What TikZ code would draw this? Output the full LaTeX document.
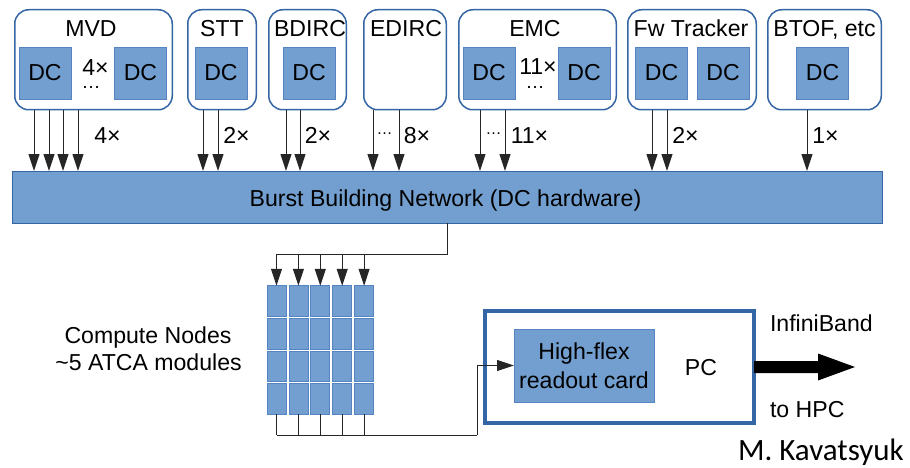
\documentclass[tikz,border=0pt]{standalone}
\usepackage{fontspec}
\setmainfont{Liberation Sans}
\newfontfamily\carl{Carlito}
\usetikzlibrary{arrows.meta,calc}
\definecolor{fillb}{HTML}{729FCF}
\definecolor{edgeb}{HTML}{3465A4}
\definecolor{dcedge}{HTML}{5584C0}
\begin{document}
\begin{tikzpicture}[x=1pt,y=-1pt,
  every node/.style={font=\fontsize{23.1}{27}\selectfont, inner sep=0pt, outer sep=0pt},
  grp/.style={draw=edgeb, line width=1.5pt, rounded corners=14pt, fill=white, minimum height=100pt},
  dcbox/.style={draw=dcedge, line width=0.8pt, fill=fillb, minimum width=52pt, minimum height=52pt},
  cell/.style={draw=dcedge, line width=0.8pt, fill=fillb, minimum width=19pt, minimum height=30.5pt},
  conn/.style={line width=1pt, draw=black!85},
  arr/.style={conn, -{Triangle[length=17pt,width=11pt]}},
  lbl/.style={anchor=base},
  dotsA/.style={anchor=base, font=\fontsize{19}{20}\selectfont},
  dotsB/.style={anchor=base, font=\fontsize{16}{18}\selectfont}
]
\useasboundingbox (0,0) rectangle (910,468);

% detector groups
\node[grp, minimum width=157.5pt] (mvd) at (93.5,59.75) {};
\node[grp, minimum width=68.5pt] (stt) at (222,59.75) {};
\node[grp, minimum width=77.5pt] (bdirc) at (307.5,59.75) {};
\node[grp, minimum width=82.5pt] (edirc) at (405,59.75) {};
\node[grp, minimum width=157.5pt] (emc) at (537.5,59.75) {};
\node[grp, minimum width=128.5pt] (fw) at (692,59.75) {};
\node[grp, minimum width=113.5pt] (btof) at (824.5,59.75) {};

\node[lbl] (tmvd) at (91,37) {MVD};
\node[lbl] (tstt) at (222,37) {STT};
\node[lbl] (tbdirc) at (310,37) {BDIRC};
\node[lbl] (tedirc) at (406,37) {EDIRC};
\node[lbl] (temc) at (535,37) {EMC};
\node[lbl] (tfw) at (691,37) {Fw Tracker};
\node[lbl] (tbtof) at (824.5,37) {BTOF, etc};

% DC boxes
\node[dcbox] (dc1) at (45,73) {DC};
\node[dcbox] (dc2) at (140.5,73) {DC};
\node[dcbox] (dc3) at (221,73) {DC};
\node[dcbox] (dc4) at (309,73) {DC};
\node[dcbox] (dc5) at (489,73) {DC};
\node[dcbox] (dc6) at (584,73) {DC};
\node[dcbox] (dc7) at (661.5,73) {DC};
\node[dcbox] (dc8) at (723,73) {DC};
\node[dcbox] (dc9) at (822.5,73) {DC};

\node[lbl] (m4) at (95.5,76) {4×};
\node[dotsA] (md) at (91,89) {…};
\node[lbl] (e11) at (538,75) {11×};
\node[dotsA] (ed) at (535,89) {…};

% bus
\node[draw=edgeb, line width=0.8pt, fill=fillb, minimum width=870pt, minimum height=52pt] (bus) at (447,197) {};
\node[lbl] (tbus) at (445.5,206) {Burst Building Network (DC hardware)};

% arrows into bus
\foreach \x in {34,49,63,78} \draw[arr] (mvd.south -| \x,0) -- (bus.north -| \x,0);
\foreach \x in {203,218} \draw[arr] (stt.south -| \x,0) -- (bus.north -| \x,0);
\foreach \x in {286,300} \draw[arr] (bdirc.south -| \x,0) -- (bus.north -| \x,0);
\foreach \x in {373,399} \draw[arr] (edirc.south -| \x,0) -- (bus.north -| \x,0);
\foreach \x in {480,505} \draw[arr] (emc.south -| \x,0) -- (bus.north -| \x,0);
\foreach \x in {652,667} \draw[arr] (fw.south -| \x,0) -- (bus.north -| \x,0);
\draw[arr] (btof.south -| 807,0) -- (bus.north -| 807,0);

\node[lbl] (a1) at (107.5,143) {4×};
\node[lbl] (a2) at (236.5,143) {2×};
\node[lbl] (a3) at (318,143) {2×};
\node[dotsB] (a4d) at (384.5,135) {…};
\node[lbl] (a4) at (417,143) {8×};
\node[dotsB] (a5d) at (493.5,135) {…};
\node[lbl] (a5) at (529.5,143) {11×};
\node[lbl] (a6) at (685.5,143) {2×};
\node[lbl] (a7) at (825.5,143) {1×};

% compute nodes
\foreach \c [count=\j] in {276.5,298.4,320.3,342.2,364.1}{
  \foreach \r [count=\i] in {301,333.7,366.4,399.1}{
    \node[cell] (cn-\i-\j) at (\c,\r) {};
  }
}
\node[lbl] (cnt1) at (148,343) {Compute Nodes};
\node[lbl] (cnt2) at (148.5,370) {\textasciitilde 5 ATCA modules};

\coordinate (split) at (447,254);
\draw[conn] (bus.south -| split) -- (split) -- (split -| cn-1-1.north);
\foreach \j in {1,...,5} \draw[arr] (split -| cn-1-\j.north) -- (cn-1-\j.north);

% PC
\node[draw=edgeb, line width=4pt, minimum width=269pt, minimum height=112pt] (pc) at (619.5,367) {};
\node[draw=dcedge, line width=0.8pt, fill=fillb, minimum width=140pt, minimum height=73pt,
      align=center, font=\fontsize{23.1}{29}\selectfont] (card) at (584,365.5) {High-flex\\readout card};
\node[lbl] (tpc) at (701,375) {PC};

\coordinate (join) at (477,435);
\foreach \j in {1,...,5} \draw[conn] (cn-4-\j.south) -- (cn-4-\j.south |- join);
\draw[conn] (cn-4-1.south |- join) -- (join);
\draw[arr] (join) |- (card.west);

% InfiniBand arrow
\fill (pc.east) ++(0,-6) -- ++(64,0) -- ++(0,-7.5) -- ++(37,13.5) -- ++(-37,13.5) -- ++(0,-7.5) -- ++(-64,0) -- cycle;
\node[anchor=base west] (ib) at (770,331) {InfiniBand};
\node[anchor=base west] (hpc) at (770,417) {to HPC};
\node[anchor=base west, font=\carl\fontsize{31}{34}\selectfont] (auth) at (738,460) {M. Kavatsyuk};
\end{tikzpicture}
\end{document}
